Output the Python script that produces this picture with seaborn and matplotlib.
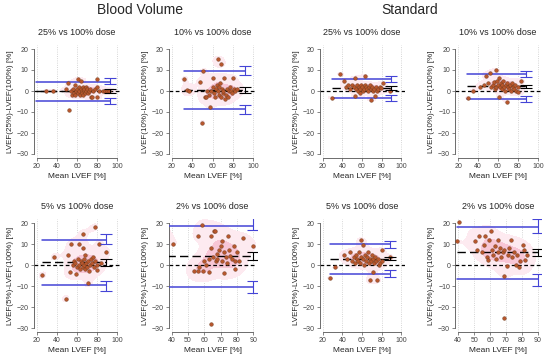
import matplotlib
matplotlib.use("Agg")
import matplotlib.pyplot as plt
from matplotlib.colors import ListedColormap
import seaborn as sns

sns.set_theme(style="white")
plt.rcParams['font.family'] = ['Liberation Sans', 'DejaVu Sans']

# ---- data: mean LVEF (x) and difference (y) ----
bv25_mean = [29, 36, 49, 51, 52, 54, 55, 56, 57, 58, 58, 59, 60, 61, 61, 62, 62, 63, 64, 64, 65, 65, 66, 66,
             67, 67, 68, 69, 69, 70, 71, 72, 73, 74, 75, 76, 78, 80, 80, 80, 82, 86, 88, 90, 92]
bv25_diff = [0, 0, 1, 4, -9, 0, -2, 1, -1, 3, -2, 0, 1, 5.6, -1, 0, 2, -2, 5, 1, 0, -1, 2, -2,
             0, 1, -1, 2, 0, 1, -1, 0, 1, -3, -3, 0, 1, 5.6, 2, -3, 0, 0, 0, 0, 0]

bv10_mean = [32.5, 35, 37, 48, 50, 51, 53, 54, 55, 57, 58, 59, 60, 60, 61, 62, 63, 64, 65, 65, 66, 66,
             67, 68, 68, 69, 70, 70, 71, 72, 73, 74, 75, 76, 77, 78, 79, 80, 81, 82, 84]
bv10_diff = [5.9, 0.5, 0, 4.3, -15, 9.6, -3, -3, 0, -2, -7.4, 0, 6, 2, -1, -3, 1, 3, 15, 0, -2, 2,
             4, 13, -3, 1, -1, 0, 6, -4, -2, 1, -3, 0, 2, 0, -1, 6, 1, 0, 1]

std25_mean = [29, 38, 42, 44, 46, 48, 50, 52, 53, 53, 54, 55, 56, 57, 58, 58, 59, 60, 61, 62, 63, 63,
              64, 65, 66, 67, 68, 69, 69, 70, 71, 72, 73, 74, 75, 76, 78, 79.5, 81, 88]
std25_diff = [-3.2, 8.1, 4.9, 2, 2.9, 1, 3, 2, 6.3, -2.4, 1, 3, 0, 2, 1, -1, 3, 2, 0, 1, 7.1, 3,
              2, 1, 0, 2, 3, -4.3, 1, 2, 0, 1, -2.4, 2, 0, 1, 2, 1.3, 3.6, 0]

std10_mean = [30, 34.6, 42, 46, 48, 50, 52, 53, 55, 56, 57, 58, 58, 59, 60, 61, 61, 62, 63, 64, 64,
              65, 66, 67, 68, 69, 69, 70, 71, 72, 73, 74, 75, 76, 77, 78, 80, 80, 83]
std10_diff = [-3.2, 0, 2, 3, 7.2, 4, 8.5, 2, 3, 4.5, 1, 10, 2, 5, 3, -2.7, 6, 2, 4, 1, 3,
              5, 2, 0, 3, -5.1, 4, 2, 1, 3, 0, 4, 2, 1, 3, 0, -0.6, 2, 5]

bv5_mean = [25.7, 37.6, 48.7, 51, 53, 54, 56, 57, 58, 59.5, 60, 61, 62, 62, 63, 64, 65, 65.6, 66, 66,
            67, 67, 68, 68, 69, 70, 71, 71.4, 72, 73, 74, 75, 76, 77.4, 77, 78, 80, 80, 82, 84, 89]
bv5_diff = [-4.8, 4, -16, 5, -3.4, 10, 0, 2, 1, -4.2, -1, 3, 10, 0, -2, 2, 1, 14.9, 8, -1,
            3, 0, -2, 5, 1, -1, 2, -8.8, -3, 0, 3, 1, 4, 18, -1, 2, -2.4, 0, 10, 1, 6.1]

bv2_mean = [36.7, 41, 53.6, 55.9, 56, 57, 58.7, 59, 60, 61, 62.6, 63, 63.8, 63.8, 64, 65, 66, 66.7, 67,
            67.5, 68, 69, 70, 70.8, 71, 72, 72, 73, 74, 74.6, 75, 76, 77, 78, 78.6, 79, 80, 81, 83.8, 89.6]
bv2_diff = [16, 10, -2.7, 14, -2.7, -1, 19.2, -2.7, 2, 0, -3.2, 3, 13.9, 8, -28, 4, 16, 16, 2,
            5.3, 3, 7, 9, 11.5, 2, -4, 6, 4, 1, 14, 7, 4.5, 3, 9, -1.9, 2, 6, 2, 13, 9]

std5_mean = [27.5, 33, 42, 45, 48, 50, 52, 53, 54, 55, 56, 57, 58, 59, 59, 60.6, 61, 62, 63, 64, 65,
             66, 67, 68, 68.3, 69, 70, 70.7, 71, 72, 73, 74, 75, 76, 77, 78, 80, 80, 88.7]
std5_diff = [-6.2, -1, 4.8, 3, 6, 2, 4, 1, 5, 3, 2, 6, 1, 12, 4, 9.3, 3, 0, 5, 2, 4,
             6, 1, 3, -7.2, 2, 5, -3.5, 3, 1, 4, 2, -7.2, 3, 0, 1, 7.2, 2, 3.7]

std2_mean = [39.4, 40.4, 50.3, 52, 53, 55, 56, 56.9, 58, 59, 59.4, 60.5, 61, 62, 63, 64, 64.7, 65, 66,
             67, 68, 68.5, 68.5, 69, 70.5, 71, 72, 73, 74, 75, 76.3, 77, 78, 79, 80.5, 81.6, 82, 83]
std2_diff = [11.2, 20.5, 11.2, 7, 14, 6, 9.3, 14, 4, 2.2, 11.7, 16.4, 7, 5, 9, 3, 12, 6, 8,
             4, 6, -25, -5.2, 7, -0.6, 5, 8, 11.7, 4, 6, -0.2, 5, -1, 2, 9.3, 7.2, 2.2, 5]

# ---- Bland-Altman statistics per panel ----
doses = [25, 10, 25, 10, 5, 2, 5, 2]
bias = [0.0, 0.5, 1.3, 2.2, 1.2, 4.3, 3.0, 6.0]
bias_ci = [(-0.8, 0.8), (-0.8, 2.0), (0.5, 2.2), (1.4, 3.0), (-0.3, 2.8), (2.3, 6.4), (2.2, 3.8), (4.2, 7.8)]
loa_upper = [4.5, 9.6, 5.8, 8.0, 12.0, 18.8, 10.0, 18.3]
upper_ci = [(3.4, 6.3), (7.5, 11.8), (4.4, 7.3), (6.5, 9.6), (10.0, 14.8), (16.5, 22.8), (8.3, 11.6), (15.4, 21.8)]
loa_lower = [-4.7, -8.5, -3.1, -3.7, -9.5, -10.4, -4.2, -6.5]
lower_ci = [(-6.1, -3.2), (-11.0, -6.8), (-4.6, -1.7), (-5.4, -2.3), (-12.3, -7.5), (-13.5, -7.5), (-5.8, -2.5), (-10.2, -4.2)]
line_start = [19, 32.5, 29, 28.5, 25, 37, 27.5, 39.4]
line_end = [93, 92, 89, 88, 89, 90, 88.7, 90]
x_range = [(20, 100)] * 5 + [(40, 90), (20, 100), (40, 90)]

panels = [(bv25_mean, bv25_diff), (bv10_mean, bv10_diff), (std25_mean, std25_diff), (std10_mean, std10_diff),
          (bv5_mean, bv5_diff), (bv2_mean, bv2_diff), (std5_mean, std5_diff), (std2_mean, std2_diff)]

W, H = 550, 358
fig = plt.figure(figsize=(W / 100, H / 100), dpi=100)

col_left = [33.5, 168.5, 319.5, 455]
col_width = [87, 88, 85, 86]
row_top = [44.8, 218.8]
ax_h = 113.4

blue = "#4444d6"
pink = ListedColormap(["#fdeaf0", "#fbd9e4", "#f8c6d6"])

for i, (xm, yd) in enumerate(panels):
    r, c = divmod(i, 4)
    ax = fig.add_axes([col_left[c] / W, 1 - (row_top[r] + ax_h) / H, col_width[c] / W, ax_h / H])
    lo, hi = x_range[i]
    pad = 0.04 * (hi - lo)
    ax.set_xlim(lo - pad, hi + pad)
    ax.set_ylim(-32, 22)
    step = 20 if hi - lo == 80 else 10
    ticks = list(range(lo, hi + 1, step))
    ax.set_xticks(ticks)
    ax.set_yticks([-30, -20, -10, 0, 10, 20])
    for t in ticks:
        ax.axvline(t, color="#c8c8c8", ls=":", lw=0.6, zorder=0)

    # faint pink density cloud behind the points
    sns.kdeplot(x=xm, y=yd, ax=ax, fill=True, cmap=pink,
                levels=3, thresh=0.15, bw_adjust=0.75, zorder=1)

    ax.axhline(0, color="black", ls=(0, (3, 2)), lw=0.9, zorder=2)
    ax.plot([line_start[i], line_end[i]], [bias[i]] * 2, color="black", ls=(0, (6, 3)), lw=1.0, zorder=3)
    ax.plot([line_start[i], line_end[i]], [loa_upper[i]] * 2, color=blue, lw=1.1, zorder=3)
    ax.plot([line_start[i], line_end[i]], [loa_lower[i]] * 2, color=blue, lw=1.1, zorder=3)

    sns.scatterplot(x=xm, y=yd, ax=ax, color="#b8562c", edgecolor="#6a3a1c", linewidth=0.3,
                    s=7, zorder=4, legend=False)

    bx = line_end[i]
    for (a, b), col in [(upper_ci[i], blue), (lower_ci[i], blue), (bias_ci[i], "black")]:
        ax.errorbar(bx, (a + b) / 2, yerr=(b - a) / 2, color=col, capsize=4, lw=0.8,
                    capthick=0.8, zorder=5)

    for s in ["top", "right"]:
        ax.spines[s].set_visible(False)
    ax.spines["left"].set_bounds(-30, 20)
    ax.spines["bottom"].set_bounds(lo, hi)
    for s in ["left", "bottom"]:
        ax.spines[s].set_color("#555555")
        ax.spines[s].set_linewidth(0.6)
    ax.tick_params(bottom=True, left=True, length=2, width=0.5, labelsize=5,
                   colors="#555555", labelcolor="#444444", pad=1.5)

    ax.set_title(f"{doses[i]}% vs 100% dose", fontsize=6.5, pad=7)
    ax.set_xlabel("Mean LVEF [%]", fontsize=6, labelpad=2)
    ax.set_ylabel(f"LVEF({doses[i]}%)-LVEF(100%) [%]", fontsize=5.8, labelpad=2)

fig.text(140 / W, 1 - 10 / H, "Blood Volume", ha="center", va="center", fontsize=10)
fig.text(410 / W, 1 - 10 / H, "Standard", ha="center", va="center", fontsize=10)

fig.savefig("out.png", dpi=100)
